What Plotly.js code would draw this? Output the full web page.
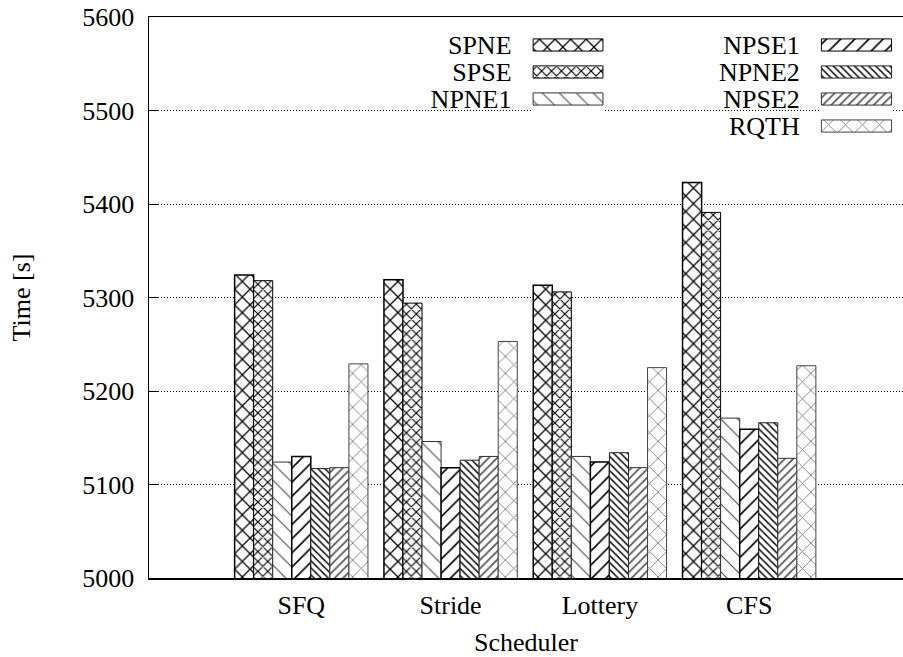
<!DOCTYPE html>
<html>
<head>
<meta charset="utf-8">
<script src="https://cdn.plot.ly/plotly-3.0.1.min.js"></script>
<style>html,body{margin:0;padding:0;background:#fff;}#chart{width:903px;height:657px;}</style>
</head>
<body>
<div id="chart"></div>
<script>
// ---- data ----
const categories = ['SFQ', 'Stride', 'Lottery', 'CFS'];
const seriesNames = ['SPNE', 'SPSE', 'NPNE1', 'NPSE1', 'NPNE2', 'NPSE2', 'RQTH'];
const SPNE  = [5324, 5319, 5313, 5423];
const SPSE  = [5318, 5294, 5306, 5391];
const NPNE1 = [5124, 5146, 5130, 5171];
const NPSE1 = [5130, 5118, 5124, 5159];
const NPNE2 = [5117, 5126, 5134, 5166];
const NPSE2 = [5118, 5130, 5118, 5128];
const RQTH  = [5229, 5253, 5225, 5227];
const yTicks = [5000, 5100, 5200, 5300, 5400, 5500, 5600];
const legendCol1 = ['SPNE', 'SPSE', 'NPNE1'];
const legendCol2 = ['NPSE1', 'NPNE2', 'NPSE2', 'RQTH'];

const values = {SPNE, SPSE, NPNE1, NPSE1, NPNE2, NPSE2, RQTH};

// ---- styles ----
const styles = {
  SPNE:  {shape: 'x',  size: 11, fg: '#000', sol: 0.22, line: '#000', lw: 1.5},
  SPSE:  {shape: 'x',  size: 7,  fg: '#000', sol: 0.3,  line: '#000', lw: 1},
  NPNE1: {shape: '\\', size: 12, fg: '#555', sol: 0.1,  line: '#333', lw: 1},
  NPSE1: {shape: '/',  size: 10, fg: '#000', sol: 0.16, line: '#000', lw: 1.5},
  NPNE2: {shape: '\\', size: 5,  fg: '#111', sol: 0.3,  line: '#222', lw: 1},
  NPSE2: {shape: '/',  size: 6,  fg: '#555', sol: 0.28, line: '#333', lw: 1},
  RQTH:  {shape: 'x',  size: 12, fg: '#777', sol: 0.14, line: '#444', lw: 1}
};

const FONT = 'Liberation Serif';

const traces = seriesNames.map(name => {
  const s = styles[name];
  return {
    type: 'bar',
    name: name,
    x: categories,
    y: values[name],
    showlegend: false,
    hoverinfo: 'x+y+name',
    marker: {
      color: '#fff',
      line: {color: s.line, width: s.lw},
      pattern: {shape: s.shape, size: s.size, solidity: s.sol, fgcolor: s.fg, bgcolor: '#fff', fillmode: 'replace'}
    }
  };
});

function legendTrace(names, xa, ya) {
  return {
    type: 'bar',
    orientation: 'h',
    y: names,
    x: names.map(() => 1),
    width: 0.45,
    xaxis: xa,
    yaxis: ya,
    showlegend: false,
    hoverinfo: 'skip',
    marker: {
      color: '#fff',
      line: {color: names.map(n => styles[n].line), width: 1},
      pattern: {
        shape: names.map(n => styles[n].shape),
        size: names.map(n => styles[n].size),
        solidity: names.map(n => styles[n].sol),
        fgcolor: names.map(n => styles[n].fg),
        bgcolor: '#fff',
        fillmode: 'replace'
      }
    }
  };
}
traces.push(legendTrace(legendCol1, 'x2', 'y2'));
traces.push(legendTrace(legendCol2, 'x3', 'y3'));

const legendYAxis = (names) => ({
  type: 'category',
  range: [names.length - 0.5, -0.5],
  tickmode: 'array',
  tickvals: names,
  ticktext: names,
  showgrid: false, zeroline: false, showline: false,
  ticks: 'outside', ticklen: 14, tickcolor: 'rgba(0,0,0,0)',
  tickfont: {family: FONT, size: 26, color: '#000'},
  fixedrange: true
});

const layout = {
  width: 903,
  height: 657,
  margin: {l: 149, r: 0, t: 17, b: 79, pad: 0},
  paper_bgcolor: '#fff',
  plot_bgcolor: '#fff',
  font: {family: FONT, size: 26, color: '#000'},
  barmode: 'group',
  bargap: 0.107,
  bargroupgap: 0,
  showlegend: false,
  xaxis: {
    type: 'category',
    range: [-1.02, 4.03],
    showline: true, linecolor: '#000', linewidth: 1.5, mirror: true,
    ticks: '', showgrid: false, zeroline: false,
    tickfont: {family: FONT, size: 26, color: '#000'},
    ticklabelstandoff: 3,
    title: {text: 'Scheduler', font: {family: FONT, size: 26, color: '#000'}, standoff: 16}
  },
  yaxis: {
    range: [5000, 5600],
    tickvals: yTicks,
    ticktext: yTicks.map(String),
    showline: true, linecolor: '#000', linewidth: 1.5,
    ticks: 'inside', ticklen: 9, tickwidth: 1, tickcolor: '#000',
    showgrid: true, gridcolor: '#000', gridwidth: 1, griddash: '1px,2px',
    zeroline: false,
    tickfont: {family: FONT, size: 26, color: '#000'},
    ticklabelstandoff: 8,
    title: {text: 'Time [s]', font: {family: FONT, size: 26, color: '#000'}, standoff: 44}
  },
  xaxis2: {domain: [0.5076, 0.6039], anchor: 'y2', range: [-0.02, 1.02], visible: false, fixedrange: true},
  yaxis2: Object.assign(legendYAxis(legendCol1), {domain: [0.8298, 0.9742], anchor: 'x2'}),
  xaxis3: {domain: [0.8899, 0.9867], anchor: 'y3', range: [-0.02, 1.02], visible: false, fixedrange: true},
  yaxis3: Object.assign(legendYAxis(legendCol2), {domain: [0.7816, 0.9742], anchor: 'x3'}),
  shapes: [
    {type: 'rect', xref: 'paper', yref: 'paper', x0: 0.868, x1: 1, y0: 0.775, y1: 0.98,
     fillcolor: '#fff', line: {width: 0}, layer: 'between'}
  ]
};

Plotly.newPlot('chart', traces, layout, {displayModeBar: false, staticPlot: true});
</script>
</body>
</html>
